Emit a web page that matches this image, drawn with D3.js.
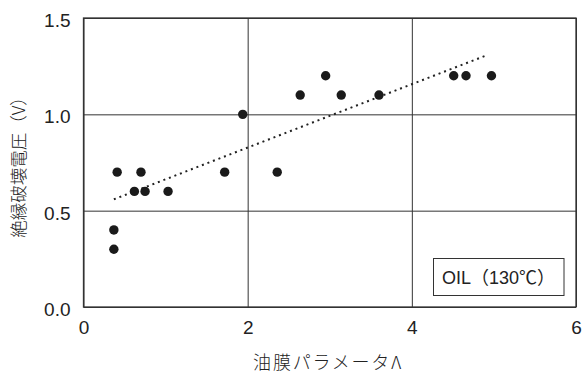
<!DOCTYPE html>
<html>
<head>
<meta charset="utf-8">
<script src="https://cdn.jsdelivr.net/npm/d3@7"></script>
<style>
  body { margin: 0; background: #fff; }
  .tick text { font-family: "Liberation Sans", Arial, sans-serif; font-size: 19px; fill: #222; }
  .jp { font-family: "Noto Sans CJK JP", sans-serif; fill: #222; font-weight: 300; }
  .lg { font-family: "Liberation Sans", "Noto Sans CJK JP", sans-serif; fill: #222; }
</style>
</head>
<body>
<svg id="chart" width="584" height="374"></svg>
<script>
// données
const lambda  = [0.37, 0.37, 0.41, 0.62, 0.70, 0.75, 1.03, 1.72, 1.94, 2.36, 2.64, 2.95, 3.14, 3.60, 4.51, 4.66, 4.97];
const voltage = [0.30, 0.40, 0.70, 0.60, 0.70, 0.60, 0.60, 0.70, 1.00, 0.70, 1.10, 1.20, 1.10, 1.10, 1.20, 1.20, 1.20];
const trendX = [0.37, 4.92];
const trendY = [0.559, 1.308];
const xTicks = [0, 2, 4, 6];
const yTicks = [0, 0.5, 1.0, 1.5];

const svg = d3.select("#chart");
const margin = { top: 18, right: 8, bottom: 67, left: 83.5 };
const width = 584, height = 374;

const x = d3.scaleLinear().domain([0, 6]).range([margin.left, width - margin.right]);
const y = d3.scaleLinear().domain([0, 1.5]).range([height - margin.bottom, margin.top]);

// grille + axe Y
svg.append("g")
  .attr("transform", `translate(${margin.left},0)`)
  .call(d3.axisLeft(y).tickValues(yTicks).tickFormat(d3.format(".1f"))
    .tickSize(-(width - margin.left - margin.right)).tickPadding(13))
  .call(g => g.select(".domain").remove())
  .call(g => g.selectAll(".tick line").attr("stroke", "#333").attr("stroke-width", 1))
  .call(g => g.selectAll(".tick text").attr("dy", "0.45em"));

// grille + axe X
svg.append("g")
  .attr("transform", `translate(0,${height - margin.bottom})`)
  .call(d3.axisBottom(x).tickValues(xTicks).tickFormat(d3.format("d"))
    .tickSize(-(height - margin.top - margin.bottom)).tickPadding(14))
  .call(g => g.select(".domain").remove())
  .call(g => g.selectAll(".tick line").attr("stroke", "#333").attr("stroke-width", 1));

// cadre
svg.append("rect")
  .attr("x", x(0)).attr("y", y(1.5))
  .attr("width", x(6) - x(0)).attr("height", y(0) - y(1.5))
  .attr("fill", "none").attr("stroke", "#333").attr("stroke-width", 1.3);

// droite de tendance (pointillés)
svg.append("path")
  .datum(d3.zip(trendX, trendY))
  .attr("d", d3.line().x(d => x(d[0])).y(d => y(d[1])))
  .attr("fill", "none").attr("stroke", "#222")
  .attr("stroke-width", 2).attr("stroke-dasharray", "2,3.9");

// points
svg.selectAll("circle.pt")
  .data(d3.zip(lambda, voltage))
  .enter().append("circle")
  .attr("class", "pt")
  .attr("cx", d => x(d[0])).attr("cy", d => y(d[1]))
  .attr("r", 4.7).attr("fill", "#1a1a1a");

// légende
svg.append("rect")
  .attr("x", 433.5).attr("y", 258.5).attr("width", 130.5).attr("height", 37)
  .attr("fill", "#fff").attr("stroke", "#333").attr("stroke-width", 1);
svg.append("text").attr("class", "lg")
  .attr("x", 498.5).attr("y", 284).attr("text-anchor", "middle")
  .style("font-size", "18px")
  .text("OIL（130℃）");

// titres des axes
svg.append("text").attr("class", "jp")
  .attr("x", 328).attr("y", 369).attr("text-anchor", "middle")
  .style("font-size", "18px").style("letter-spacing", "1.8px")
  .text("油膜パラメータΛ");

svg.append("text").attr("class", "jp")
  .attr("transform", "translate(25,163) rotate(-90)")
  .attr("text-anchor", "middle")
  .style("font-size", "17.5px")
  .text("絶縁破壊電圧（V）");
</script>
</body>
</html>
